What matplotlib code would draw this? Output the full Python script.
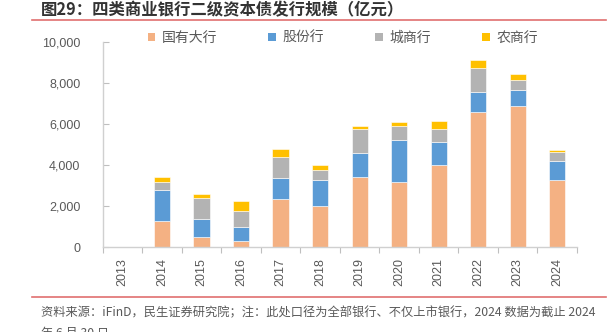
import matplotlib
matplotlib.use('Agg')
from matplotlib import pyplot as plt
from matplotlib.patches import Patch
from matplotlib.lines import Line2D
import numpy as np

years = ['2013', '2014', '2015', '2016', '2017', '2018', '2019', '2020', '2021', '2022', '2023', '2024']
state_banks = [0, 1285, 500, 290, 2375, 2030, 3415, 3200, 4015, 6620, 6910, 3270]
joint_stock = [0, 1510, 880, 715, 1025, 1270, 1200, 2050, 1140, 975, 750, 940]
city_banks = [0, 405, 1040, 765, 1025, 470, 1140, 685, 635, 1140, 520, 425]
rural_banks = [0, 230, 160, 490, 390, 245, 180, 195, 375, 405, 275, 130]
series_names = ['国有大行', '股份行', '城商行', '农商行']
colors = ['#F4B183', '#5B9BD5', '#B3B3B3', '#FFC000']

cjk = ['Noto Sans CJK SC', 'DejaVu Sans']
num_font = ['Liberation Sans', 'DejaVu Sans']
grey = '#595959'

fig = plt.figure(figsize=(6.14, 3.32), dpi=100)
ax = fig.add_axes([0.1673, 0.2551, 0.9397 - 0.1673, 0.8726 - 0.2551])

x = np.arange(len(years))
bottom = np.zeros(len(years))
for vals, name, c in zip([state_banks, joint_stock, city_banks, rural_banks], series_names, colors):
    ax.bar(x, vals, width=0.41, bottom=bottom, color=c, edgecolor='white', linewidth=0.4, label=name)
    bottom += np.array(vals)

ax.set_xlim(-0.5, len(years) - 0.5)
ax.set_ylim(0, 10000)
ax.set_yticks(np.arange(0, 10001, 2000))
ax.set_yticklabels(['{:,}'.format(v) for v in range(0, 10001, 2000)], fontfamily=num_font, fontsize=9, color=grey)
ax.set_xticks(x)
ax.set_xticklabels(years, rotation=90, fontfamily=num_font, fontsize=9, color=grey)
ax.set_xticks(np.arange(-0.5, len(years)), minor=True)
ax.tick_params(axis='x', which='major', length=0, pad=8)
ax.tick_params(axis='x', which='minor', length=4, width=0.8, color='#BFBFBF', direction='out')
ax.tick_params(axis='y', length=4, width=0.8, color='#BFBFBF', direction='in', pad=16)

for s in ['top', 'right']:
    ax.spines[s].set_visible(False)
for s in ['left', 'bottom']:
    ax.spines[s].set_color('#D0D0D0')
    ax.spines[s].set_linewidth(1.0)

handles = [Patch(facecolor=c, edgecolor='none') for c in colors]
fig.legend(handles, series_names, loc='center', bbox_to_anchor=(0.558, 1 - 38 / 332), ncol=4,
           frameon=False, prop={'family': cjk, 'size': 10}, labelcolor=grey,
           handlelength=0.55, handleheight=0.55, handletextpad=0.45, columnspacing=3.7)

fig.text(41 / 614, 1 - 10 / 332, '图29：四类商业银行二级资本债发行规模（亿元）', fontfamily=cjk, fontsize=11.8,
         fontweight='bold', color='#333333', ha='left', va='center')
fig.add_artist(Line2D([32 / 614, 606 / 614], [1 - 19.5 / 332, 1 - 19.5 / 332], color='#E07070', linewidth=1.2))
fig.add_artist(Line2D([32 / 614, 606 / 614], [1 - 296.5 / 332, 1 - 296.5 / 332], color='#E07070', linewidth=1.2))

fig.text(41 / 614, 1 - 313 / 332, '资料来源：iFinD，民生证券研究院；注：此处口径为全部银行、不仅上市银行，2024 数据为截止 2024',
         fontfamily=cjk, fontsize=8.8, color=grey, ha='left', va='center')
fig.text(41 / 614, 1 - 333 / 332, '年 6 月 30 日', fontfamily=cjk, fontsize=8.8, color=grey, ha='left', va='center')

fig.savefig('out.png', dpi=100)
